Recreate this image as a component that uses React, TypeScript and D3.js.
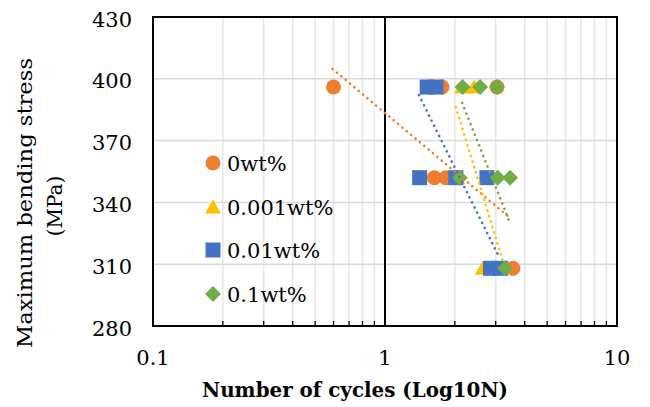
import * as d3 from "d3";

// series points: [cycles, stress]
const wt0 = [
  [0.6, 396], [1.76, 396], [3.04, 396],
  [1.63, 352], [1.83, 352],
  [3.56, 308],
];
const wt0001 = [
  [2.15, 396], [2.42, 396],
  [2.05, 352],
  [2.64, 308], [3.2, 308],
];
const wt001 = [
  [1.52, 396], [1.66, 396],
  [1.41, 352], [2.02, 352], [2.75, 352],
  [2.85, 308], [3.15, 308],
];
const wt01 = [
  [2.16, 396], [2.57, 396], [3.04, 396],
  [2.1, 352], [3.06, 352], [3.46, 352],
  [3.29, 308],
];

// trendline end points
const trend0 = [[0.594, 404.8], [3.5, 332]];
const trend0001 = [[2.02, 386.3], [3.23, 311]];
const trend001 = [[1.4, 392.1], [3.07, 314.5]];
const trend01 = [[2.15, 388.3], [3.46, 330]];

const seriesNames = ["0wt%", "0.001wt%", "0.01wt%", "0.1wt%"];
const colors = ["#ED7D31", "#FFC000", "#4472C4", "#70AD47"];
const shapes = ["circle", "triangle", "square", "diamond"];

const yTicks = [280, 310, 340, 370, 400, 430];
const xTicks = [0.1, 1, 10];

const width = 650,
  height = 407,
  marginLeft = 153,
  marginRight = 33,
  marginTop = 17,
  marginBottom = 81;

const font = "'DejaVu Serif', serif";

function Marker({ shape, x, y, color }) {
  if (shape === "circle") return <circle cx={x} cy={y} r={7.5} fill={color} />;
  if (shape === "square")
    return <rect x={x - 7.5} y={y - 7.5} width={15} height={15} fill={color} />;
  if (shape === "triangle")
    return (
      <path
        d={`M${x},${y - 7.5}L${x + 8},${y + 6.5}L${x - 8},${y + 6.5}Z`}
        fill={color}
      />
    );
  return (
    <path
      d={`M${x},${y - 8}L${x + 8},${y}L${x},${y + 8}L${x - 8},${y}Z`}
      fill={color}
    />
  );
}

const App = () => {
  const x = d3.scaleLog([0.1, 10], [marginLeft, width - marginRight]);
  const y = d3.scaleLinear([280, 430], [height - marginBottom, marginTop]);

  const allSeries = [wt0, wt0001, wt001, wt01];
  const trends = [trend0, trend0001, trend001, trend01];
  const minor = [0.2, 0.3, 0.4, 0.5, 0.6, 0.7, 0.8, 0.9, 2, 3, 4, 5, 6, 7, 8, 9];
  const line = d3.line((d) => x(d[0]), (d) => y(d[1]));

  const legendY = [163, 207, 250, 294];

  return (
    <svg
      width={width}
      height={height}
      style={{ position: "absolute", left: 0, top: 0 }}
    >
      <rect width={width} height={height} fill="white" />
      {/* gridlines */}
      <g stroke="#e6e6e6" strokeWidth="1.5">
        {minor.map((m) => (
          <line key={m} x1={x(m)} x2={x(m)} y1={y(280)} y2={y(430)} />
        ))}
      </g>
      <g stroke="#d9d9d9" strokeWidth="1.5">
        {yTicks.slice(1, -1).map((t) => (
          <line key={t} x1={x(0.1)} x2={x(10)} y1={y(t)} y2={y(t)} />
        ))}
      </g>
      {/* minor ticks on the bottom axis */}
      <g stroke="black" strokeWidth="1.3">
        {minor.map((m) => (
          <line key={m} x1={x(m)} x2={x(m)} y1={y(280)} y2={y(280) - 5} />
        ))}
      </g>
      {/* axis at 1 and frame */}
      <line x1={x(1)} x2={x(1)} y1={y(280)} y2={y(430)} stroke="black" strokeWidth="2" />
      <rect
        x={x(0.1)}
        y={y(430)}
        width={x(10) - x(0.1)}
        height={y(280) - y(430)}
        fill="none"
        stroke="black"
        strokeWidth="2"
      />

      {/* markers */}
      {allSeries.map((s, i) => (
        <g key={i}>
          {s.map((d, j) => (
            <Marker key={j} shape={shapes[i]} x={x(d[0])} y={y(d[1])} color={colors[i]} />
          ))}
        </g>
      ))}

      {/* trendlines */}
      {trends.map((t, i) => (
        <path
          key={i}
          d={line(t)}
          fill="none"
          stroke={colors[i]}
          strokeWidth="2.6"
          strokeLinecap="round"
          strokeDasharray="0.1 5.6"
        />
      ))}

      {/* legend */}
      {seriesNames.map((n, i) => (
        <g key={n}>
          <Marker shape={shapes[i]} x={213} y={legendY[i]} color={colors[i]} />
          <text
            x={227}
            y={legendY[i]}
            dy="0.36em"
            fontFamily={font}
            fontSize="21"
            fill="black"
          >
            {n}
          </text>
        </g>
      ))}

      {/* y tick labels */}
      {yTicks.map((t) => (
        <text
          key={t}
          x={132}
          y={y(t) + 2}
          dy="0.36em"
          textAnchor="end"
          fontFamily={font}
          fontSize="21"
        >
          {t}
        </text>
      ))}
      {/* x tick labels */}
      {xTicks.map((t) => (
        <text
          key={t}
          x={x(t)}
          y={365}
          textAnchor="middle"
          fontFamily={font}
          fontSize="21"
        >
          {t}
        </text>
      ))}

      {/* axis titles */}
      <text
        x={355}
        y={397}
        textAnchor="middle"
        fontFamily={font}
        fontSize="20"
        fontWeight="bold"
        textLength="306"
        lengthAdjust="spacingAndGlyphs"
      >
        Number of cycles (Log10N)
      </text>
      <text
        transform="translate(32,203) rotate(-90)"
        textAnchor="middle"
        fontFamily={font}
        fontSize="20"
        textLength="290"
        lengthAdjust="spacingAndGlyphs"
      >
        Maximum bending stress
      </text>
      <text
        transform="translate(62,206) rotate(-90)"
        textAnchor="middle"
        fontFamily={font}
        fontSize="20"
      >
        (MPa)
      </text>
    </svg>
  );
};

export default App;
